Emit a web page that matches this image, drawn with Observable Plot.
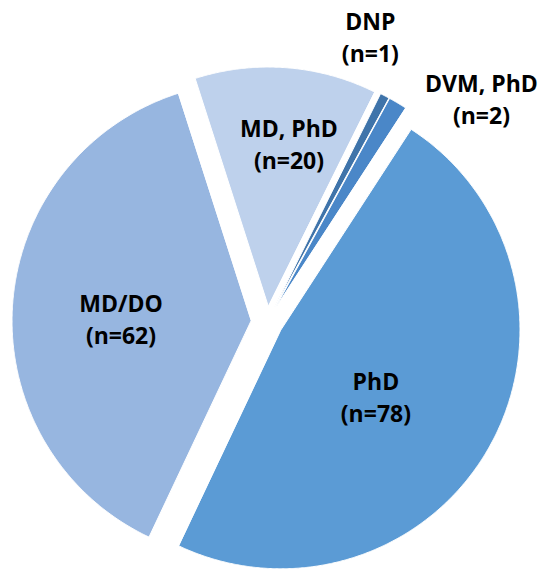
<!DOCTYPE html>
<html>
<head>
<meta charset="utf-8">
<script src="https://cdn.jsdelivr.net/npm/d3@7"></script>
<script src="https://cdn.jsdelivr.net/npm/@observablehq/plot@0.6"></script>
<style>
  html, body { margin: 0; padding: 0; background: #fff; }
  #chart svg { display: block; }
</style>
</head>
<body>
<div id="chart"></div>
<script>
// ---- data ----
const categories = ["PhD", "MD/DO", "MD, PhD", "DNP", "DVM, PhD"];
const counts = [78, 62, 20, 1, 2];

// ---- layout / style ----
const W = 540, H = 569;
const Cx = 266.5, Cy = 321.5, R = 239;      // pie centre and radius (px)
const explode = 16 / R;                      // slice explosion (radius units)
const startDeg = 33;
const colors = ["#5B9BD5", "#97B6E0", "#BED1EC", "#3F74AA", "#4A87C8"];
const labelLayout = {
  "PhD":      {r: 0.559, nx: -7.8, ny: 9.0},
  "MD/DO":    {r: 0.611, nx: -0.3, ny: 5.0},
  "MD, PhD":  {r: 0.742, nx: 8.7,  ny: -2.4},
  "DNP":      {r: 1.259, nx: -35.5, ny: -18.8},
  "DVM, PhD": {r: 1.29,  nx: 56.6, ny: 40.3}
};

const rows = categories.map((c, i) => ({cat: c, n: counts[i]}));
const a0 = startDeg * Math.PI / 180;
const arcs = d3.pie().sort(null).value(d => d.n).startAngle(a0).endAngle(a0 + 2 * Math.PI)(rows);

// slice outlines in unit-radius coordinates (y up)
const pts = [];
for (const a of arcs) {
  const mid = (a.startAngle + a.endAngle) / 2;
  const ox = explode * Math.sin(mid), oy = explode * Math.cos(mid);
  pts.push({cat: a.data.cat, x: ox, y: oy});
  const steps = Math.max(4, Math.ceil((a.endAngle - a.startAngle) / 0.005));
  for (let k = 0; k <= steps; ++k) {
    const t = a.startAngle + (a.endAngle - a.startAngle) * k / steps;
    pts.push({cat: a.data.cat, x: ox + Math.sin(t), y: oy + Math.cos(t)});
  }
}

const labels = arcs.map(a => {
  const mid = (a.startAngle + a.endAngle) / 2;
  const L = labelLayout[a.data.cat];
  return {
    text: `${a.data.cat}\n(n=${a.data.n})`,
    x: L.r * Math.sin(mid) + L.nx / R,
    y: L.r * Math.cos(mid) - L.ny / R
  };
});

const chart = Plot.plot({
  width: W,
  height: H,
  margin: 0,
  style: {background: "#fff", fontFamily: "'Open Sans', sans-serif"},
  x: {domain: [-Cx / R, (W - Cx) / R], range: [0, W], axis: null},
  y: {domain: [-(H - Cy) / R, Cy / R], range: [H, 0], axis: null},
  color: {domain: categories, range: colors},
  marks: [
    Plot.line(pts, {x: "x", y: "y", z: "cat", fill: "cat", stroke: "#fff", strokeWidth: 1, curve: "linear-closed"}),
    Plot.text(labels, {
      x: "x", y: "y", text: "text",
      fontSize: 23, fontWeight: "bold", fontFamily: "'Open Sans', sans-serif",
      fill: "#000", textAnchor: "middle", lineAnchor: "middle", lineHeight: 1.391
    })
  ]
});
document.getElementById("chart").append(chart);
</script>
</body>
</html>
